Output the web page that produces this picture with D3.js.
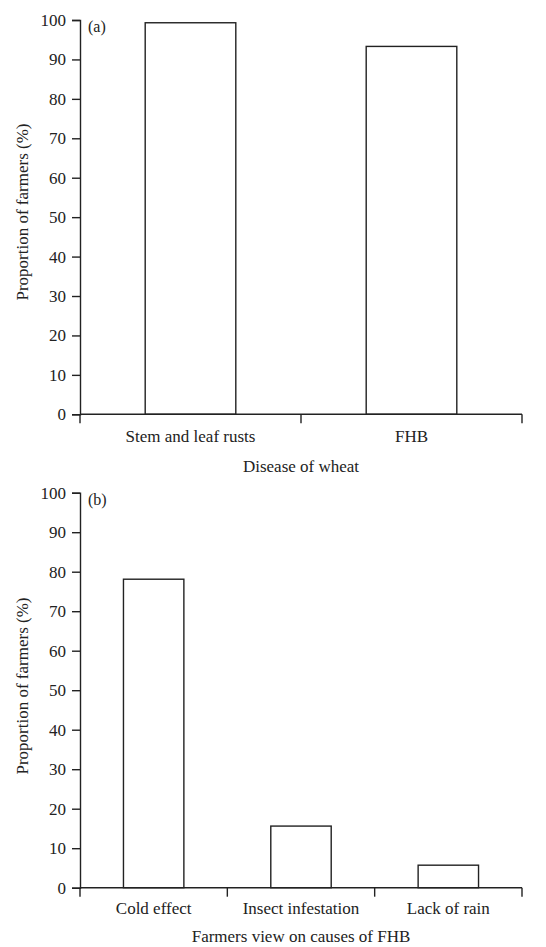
<!DOCTYPE html>
<html lang="en">
  <head>
    <meta charset="utf-8">
    <title>Farmers survey</title>
    <script type="text/javascript" src="https://cdn.jsdelivr.net/npm/d3@7/dist/d3.min.js"></script>
    <style>
      body { margin: 0; background: #fff; }
      svg text { font-family: "Liberation Serif", "DejaVu Serif", serif; fill: #222; }
    </style>
  </head>

  <body>
    <script>
      // panel (a): diseases of wheat known to farmers
      var diseases = ['Stem and leaf rusts', 'FHB']
      var diseaseValues = [99.3, 93.3]

      // panel (b): farmers view on causes of FHB
      var causes = ['Cold effect', 'Insect infestation', 'Lack of rain']
      var causeValues = [78.1, 15.6, 5.7]

      var yTicks = [0, 10, 20, 30, 40, 50, 60, 70, 80, 90, 100]

      var width = 546, height = 947
      var svg = d3.select('body').append('svg').attr('width', width).attr('height', height)

      function drawPanel(cats, vals, opts) {
        var g = svg.append('g')
        var x = d3.scaleBand().domain(cats).range([80, 522]).paddingInner(0.59).paddingOuter(0.295)
        var y = d3.scaleLinear().domain([0, 100]).range([opts.bottom, opts.top])

        // bars
        g.selectAll('rect').data(cats).enter().append('rect')
          .attr('x', function(d) { return x(d) })
          .attr('y', function(d, i) { return y(vals[i]) })
          .attr('width', x.bandwidth())
          .attr('height', function(d, i) { return y(0) - y(vals[i]) })
          .attr('fill', 'white')
          .attr('stroke', '#222')
          .attr('stroke-width', 1.4)

        // y axis
        var yAxis = d3.axisLeft(y).tickValues(yTicks).tickSize(8).tickPadding(6)
        var ya = g.append('g').attr('transform', 'translate(80,0)').call(yAxis)
        ya.attr('font-family', null)
        ya.select('.domain').attr('stroke', '#222').attr('stroke-width', 1.4)
        ya.selectAll('.tick line').attr('stroke', '#222').attr('stroke-width', 1.4)
        ya.selectAll('text').attr('font-size', 17).attr('fill', '#222')

        // x axis: ticks at the band boundaries
        var xa = g.append('g').attr('transform', 'translate(0,' + y(0) + ')')
        xa.append('line').attr('x1', 80).attr('x2', 522).attr('stroke', '#222').attr('stroke-width', 1.4)
        var edges = d3.range(cats.length + 1).map(function(i) { return 80 + i * (442 / cats.length) })
        xa.selectAll('line.tick').data(edges).enter().append('line')
          .attr('class', 'tick')
          .attr('x1', function(d) { return d }).attr('x2', function(d) { return d })
          .attr('y1', 0).attr('y2', 9)
          .attr('stroke', '#222').attr('stroke-width', 1.4)
        xa.selectAll('text').data(cats).enter().append('text')
          .attr('x', function(d, i) { return (edges[i] + edges[i + 1]) / 2 })
          .attr('y', opts.labelDy)
          .attr('text-anchor', 'middle')
          .attr('font-size', 17)
          .text(function(d) { return d })

        // axis titles
        g.append('text')
          .attr('x', 301).attr('y', y(0) + opts.titleDy)
          .attr('text-anchor', 'middle').attr('font-size', 17)
          .text(opts.xTitle)
        g.append('text')
          .attr('transform', 'translate(28,' + opts.labelY + ') rotate(-90)')
          .attr('text-anchor', 'middle').attr('font-size', 17)
          .text('Proportion of farmers (%)')

        // panel letter
        g.append('text')
          .attr('x', 88).attr('y', opts.top + 12)
          .attr('font-size', 16)
          .text(opts.letter)
      }

      drawPanel(diseases, diseaseValues, { top: 20, bottom: 414.3, labelDy: 28, titleDy: 58, xTitle: 'Disease of wheat', labelY: 212, letter: '(a)' })
      drawPanel(causes, causeValues, { top: 492.7, bottom: 887.7, labelDy: 26.5, titleDy: 54, xTitle: 'Farmers view on causes of FHB', labelY: 686, letter: '(b)' })
    </script>
  </body>
</html>
